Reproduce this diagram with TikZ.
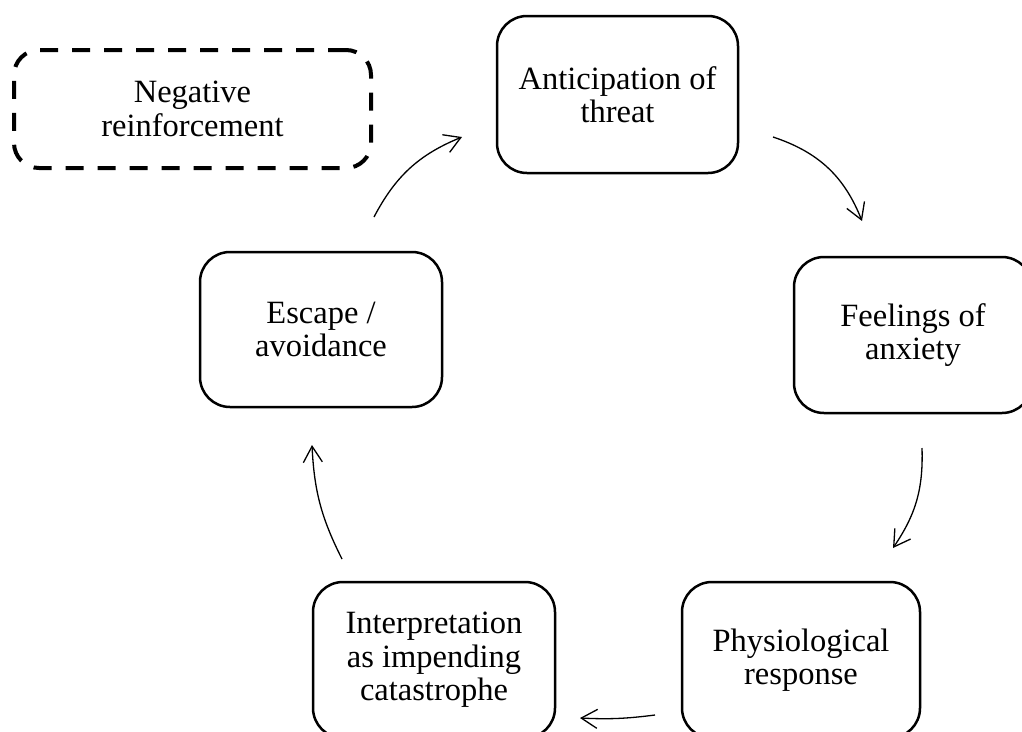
\documentclass[tikz,border=0pt]{standalone}
\usepackage{fontspec}
\setmainfont{Liberation Serif}
\usetikzlibrary{arrows.meta}
\begin{document}
\begin{tikzpicture}[x=1pt,y=-1pt,
  box/.style={draw, line width=2.5pt, rounded corners=30pt, align=center,
    font=\fontsize{32.5}{33.5}\selectfont, inner sep=0pt},
  dashbox/.style={box, line width=4pt, rounded corners=25pt, dash pattern=on 18pt off 14pt},
  flow/.style={line width=1.3pt, -{Straight Barb[length=16pt,width=19pt]}}
]
\useasboundingbox (0,0) rectangle (1022,731);
\clip (0,0) rectangle (1022,731);
\node[dashbox, minimum width=357pt, minimum height=118pt] (neg) at (192.5,109) {Negative\\reinforcement};
\node[box, minimum width=241pt, minimum height=157pt] (ant) at (617.5,94.5) {Anticipation of\\threat};
\node[box, minimum width=238pt, minimum height=156pt] (feel) at (913,335) {Feelings of\\anxiety};
\node[box, minimum width=238pt, minimum height=156pt] (phys) at (801,660) {Physiological\\response};
\node[box, minimum width=242pt, minimum height=156pt] (interp) at (434,660) {Interpretation\\as impending\\catastrophe};
\node[box, minimum width=242pt, minimum height=155pt] (esc) at (321,329.5) {Escape /\\avoidance};

\coordinate (a1) at (773,137);  \coordinate (a2) at (862,221);
\coordinate (b1) at (922,448);  \coordinate (b2) at (893,548);
\coordinate (c1) at (655,715);  \coordinate (c2) at (580,718);
\coordinate (d1) at (342,559);  \coordinate (d2) at (312,445);
\coordinate (e1) at (374,217);  \coordinate (e2) at (462,137);

\draw[flow] (a1) to[bend left=25] (a2);
\draw[flow] (b1) to[bend left=18] (b2);
\draw[flow] (c1) to[bend left=5] (c2);
\draw[flow] (d1) to[bend left=12] (d2);
\draw[flow] (e1) to[bend left=20] (e2);
\end{tikzpicture}
\end{document}
